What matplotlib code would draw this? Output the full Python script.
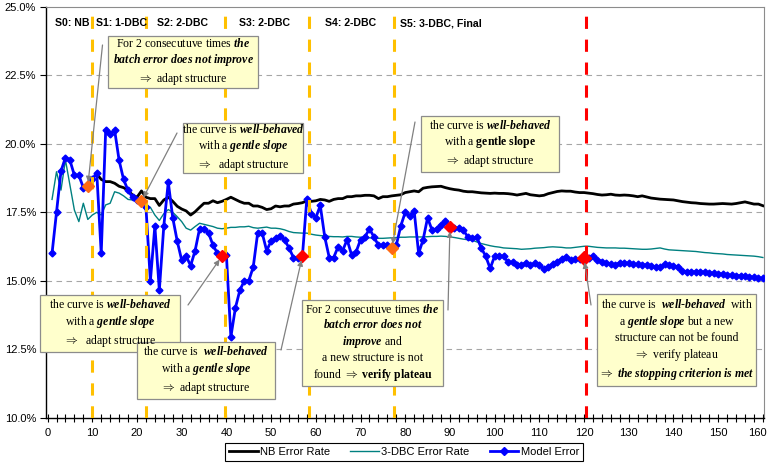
import matplotlib
matplotlib.use("Agg")
import matplotlib.pyplot as plt
from matplotlib import font_manager
from matplotlib.lines import Line2D
from matplotlib.patches import Rectangle
from matplotlib.transforms import offset_copy

W, H = 769, 466

# Model error, x = 1..160
model_error = [
    16.0, 17.5, 19.0, 19.5, 19.4, 18.85, 18.85, 18.4, 18.45, 18.7,
    18.95, 16.0, 20.5, 20.35, 20.5, 19.4, 18.7, 18.3, 18.05, 17.95,
    17.9, 17.7, 15.0, 17.0, 14.65, 17.0, 18.6, 17.3, 16.45, 15.75,
    15.9, 15.55, 16.1, 16.9, 16.9, 16.75, 16.3, 16.0, 15.9, 15.95,
    12.95, 14.0, 14.65, 15.0, 15.0, 15.5, 16.75, 16.75, 16.1, 16.45,
    16.55, 16.65, 16.5, 16.2, 15.85, 15.85, 15.9, 18.0, 17.45, 17.3,
    17.75, 16.6, 15.85, 15.85, 16.25, 16.1, 16.5, 15.95, 16.05, 16.5,
    16.6, 16.9, 16.6, 16.3, 16.3, 16.3, 16.2, 16.3, 17.0, 17.5,
    17.35, 17.55, 16.0, 16.5, 17.3, 16.85, 16.9, 17.05, 17.2, 16.95,
    16.92, 16.92, 16.85, 16.6, 16.55, 16.6, 16.2, 15.9, 15.45, 15.9,
    15.9, 15.9, 15.68, 15.68, 15.58, 15.58, 15.66, 15.57, 15.64, 15.57,
    15.43, 15.52, 15.6, 15.7, 15.8, 15.88, 15.76, 15.78, 15.78, 15.82,
    15.84, 15.9, 15.76, 15.7, 15.64, 15.6, 15.58, 15.66, 15.66, 15.64,
    15.6, 15.6, 15.58, 15.58, 15.54, 15.52, 15.5, 15.6, 15.58, 15.53,
    15.52, 15.35, 15.33, 15.33, 15.33, 15.33, 15.32, 15.3, 15.28, 15.26,
    15.25, 15.22, 15.2, 15.19, 15.18, 15.17, 15.15, 15.13, 15.11, 15.09,
]

# NB error rate, x = 11..160
nb_error = [
    18.9, 18.7, 18.62, 18.62, 18.56, 18.45, 18.4, 18.3, 18.13, 18.05,
    18.28, 18.05, 18.0, 18.0, 17.75, 17.95, 18.05, 17.9, 17.72, 17.62,
    17.55, 17.4, 17.52, 17.68, 17.83, 17.83, 17.92, 17.85, 17.9, 17.97,
    18.05, 17.97, 17.89, 17.83, 17.83, 17.73, 17.73, 17.68, 17.6, 17.63,
    17.73, 17.7, 17.73, 17.73, 17.8, 17.82, 17.85, 17.92, 17.9, 17.92,
    17.97, 17.95, 17.9, 17.97, 18.0, 18.0, 18.07, 18.07, 18.1, 18.1,
    18.12, 18.12, 18.1, 18.0, 18.07, 18.07, 18.1, 18.12, 18.14, 18.22,
    18.25, 18.28, 18.25, 18.38, 18.41, 18.43, 18.44, 18.45, 18.4, 18.36,
    18.33, 18.31, 18.27, 18.25, 18.25, 18.23, 18.21, 18.2, 18.19, 18.2,
    18.19, 18.19, 18.18, 18.16, 18.13, 18.16, 18.19, 18.14, 18.12, 18.1,
    18.12, 18.18, 18.22, 18.26, 18.28, 18.27, 18.27, 18.24, 18.22, 18.22,
    18.2, 18.18, 18.15, 18.13, 18.14, 18.16, 18.13, 18.12, 18.13, 18.12,
    18.1, 18.07, 18.1, 18.06, 18.02, 18.0, 17.98, 17.97, 17.96, 17.95,
    17.92, 17.89, 17.87, 17.85, 17.84, 17.82, 17.81, 17.8, 17.8, 17.81,
    17.82, 17.81, 17.8, 17.82, 17.85, 17.88, 17.84, 17.8, 17.8, 17.74,
]

# 3-DBC error rate, x = 1..160
dbc_error = [
    17.97, 18.98, 18.31, 19.41, 18.5, 17.58, 17.16, 17.83, 17.24, 17.4,
    17.5, 17.4, 17.77, 17.83, 18.25, 18.2, 18.1, 17.97, 17.95, 17.97,
    17.89, 17.77, 17.68, 17.4, 17.2, 17.45, 17.6, 17.5, 17.34, 17.16,
    16.92, 16.85, 16.98, 17.1, 17.06, 17.02, 16.98, 16.92, 16.9, 16.92,
    16.95, 16.95, 16.97, 16.97, 16.99, 16.94, 16.92, 16.94, 16.96, 16.92,
    16.92, 16.9, 16.86, 16.8, 16.76, 16.75, 16.74, 16.74, 16.7, 16.67,
    16.65, 16.64, 16.62, 16.61, 16.61, 16.6, 16.62, 16.62, 16.6, 16.59,
    16.58, 16.57, 16.55, 16.55, 16.55, 16.56, 16.57, 16.58, 16.59, 16.59,
    16.6, 16.6, 16.6, 16.6, 16.61, 16.62, 16.62, 16.63, 16.62, 16.6,
    16.58, 16.55, 16.52, 16.5, 16.48, 16.42, 16.36, 16.32, 16.28, 16.25,
    16.23, 16.2, 16.19, 16.18, 16.17, 16.15, 16.16, 16.17, 16.19, 16.2,
    16.21, 16.23, 16.24, 16.23, 16.22, 16.2, 16.2, 16.22, 16.24, 16.26,
    16.26, 16.24, 16.22, 16.21, 16.2, 16.2, 16.2, 16.19, 16.19, 16.18,
    16.17, 16.16, 16.15, 16.15, 16.16, 16.18, 16.2, 16.16, 16.13, 16.12,
    16.11, 16.1, 16.09, 16.08, 16.07, 16.05, 16.03, 16.02, 16.0, 15.99,
    15.98, 15.96, 15.95, 15.94, 15.93, 15.92, 15.91, 15.9, 15.88, 15.85,
]

model_x = list(range(1, 161))
nb_x = list(range(11, 161))
dbc_x = list(range(1, 161))

orange_points = [9, 21, 77]
red_points = [39, 57, 90, 120]
stage_lines = [10, 22, 39.6, 58.4, 77.5]
final_line = 120.5
stage_labels = ["S0: NB", "S1: 1-DBC", "S2: 2-DBC", "S3: 2-DBC", "S4: 2-DBC", "S5: 3-DBC, Final"]
x_ticks = list(range(0, 161, 10))
y_ticks = [10.0, 12.5, 15.0, 17.5, 20.0, 22.5, 25.0]
legend_labels = ["NB Error Rate", "3-DBC Error Rate", "Model Error"]

plt.rcParams["mathtext.fontset"] = "custom"
plt.rcParams["mathtext.rm"] = "Liberation Serif"
plt.rcParams["mathtext.it"] = "Liberation Serif:italic"
plt.rcParams["mathtext.bf"] = "Liberation Serif:bold"
plt.rcParams["mathtext.bfit"] = "Liberation Serif:italic:bold"
plt.rcParams["mathtext.fallback"] = "cm"


def pick_font(*names):
    for name in names:
        try:
            font_manager.findfont(font_manager.FontProperties(family=name), fallback_to_default=False)
            return name
        except ValueError:
            continue
    return "DejaVu Sans"


NARROW = pick_font("Liberation Sans Narrow", "Liberation Sans")
SERIF = ["Liberation Serif", "DejaVu Serif"]
ARROW = "$\\Rightarrow$"


def fx(px):
    return px / W


def fy(py):
    return 1 - py / H


def model_at(x):
    return model_error[model_x.index(x)]


def note_box(fig, x0, y0, x1, y1, text):
    rect = Rectangle((fx(x0), fy(y1)), fx(x1) - fx(x0), fy(y0) - fy(y1), transform=fig.transFigure,
                     facecolor="#FFFFCC", edgecolor="#8C8C8C", linewidth=0.9, zorder=7)
    fig.add_artist(rect)
    fig.text(fx((x0 + x1) / 2), fy((y0 + y1) / 2), text, ha="center", va="center", multialignment="center",
             fontsize=8.5, family=SERIF, color="#000000", linespacing=1.25, zorder=8)


def arrow(ax, start_px, x):
    ax.annotate("", xy=(x, model_at(x)), xycoords="data",
                xytext=(fx(start_px[0]), fy(start_px[1])), textcoords="figure fraction",
                arrowprops=dict(arrowstyle="-|>", color="#808080", lw=0.9, shrinkA=0, shrinkB=3,
                                mutation_scale=8),
                annotation_clip=False, zorder=6)


def main():
    fig = plt.figure(figsize=(W / 100, H / 100), dpi=100)
    fig.patch.set_facecolor("white")
    ax = fig.add_axes([fx(46), fy(417.8), fx(764) - fx(46), fy(6.8) - fy(417.8)])

    ax.set_xlim(-0.35, 160.25)
    ax.set_ylim(10, 25)

    ax.set_yticks(y_ticks)
    ax.set_yticklabels([f"{v:.1f}%" for v in y_ticks])
    ax.set_xticks(x_ticks)
    ax.set_xticks(list(range(0, 161, 2)), minor=True)
    ax.tick_params(axis="y", direction="out", length=4, width=0.8, pad=3)
    ax.tick_params(axis="x", which="both", direction="inout", length=6, width=0.8, pad=4)
    for lbl in ax.get_xticklabels() + ax.get_yticklabels():
        lbl.set_family(NARROW)
        lbl.set_fontsize(8)

    for v in y_ticks[1:-1]:
        ax.axhline(v, color="#A6A6A6", lw=0.8, ls=(0, (5, 4)), zorder=1)

    for side in ("top", "right"):
        ax.spines[side].set_color("#8C8C8C")
        ax.spines[side].set_linewidth(0.8)
    for side in ("left", "bottom"):
        ax.spines[side].set_color("#000000")
        ax.spines[side].set_linewidth(1.0)

    ax.plot(dbc_x, dbc_error, color="#008080", lw=1.0, zorder=2)
    ax.plot(nb_x, nb_error, color="#000000", lw=2.0, zorder=3)
    ax.plot(model_x, model_error, color="#0000FF", lw=2.0, marker="D", ms=3.5,
            mfc="#0000FF", mec="#0000FF", zorder=4)

    for x in stage_lines:
        ax.axvline(x, color="#FFC000", lw=2.2, ls=(0, (4, 3.5)), zorder=5)
    ax.axvline(final_line, color="#FF0000", lw=2.2, ls=(0, (4, 3.5)), zorder=5)

    ax.plot(orange_points, [model_at(x) for x in orange_points], ls="none", marker="D", ms=6,
            color="#FF6A13", zorder=6)
    ax.plot(red_points[:-1], [model_at(x) for x in red_points[:-1]], ls="none", marker="D", ms=6,
            color="#FF0000", zorder=6)
    ax.plot(red_points[-1:], [model_at(red_points[-1])], ls="none", marker="D", ms=7.5,
            color="#FF0000", zorder=6)

    # stage labels along the top
    for px, label in zip([55, 96, 157, 239, 325, 400], stage_labels):
        fig.text(fx(px), fy(23), label, ha="left", va="center", fontsize=7.6, fontweight="bold",
                 family="Liberation Sans", color="#000000")

    # callouts
    arrow(ax, (102.5, 45), 9)
    arrow(ax, (177, 133), 21)
    arrow(ax, (188, 305), 39)
    arrow(ax, (281, 350), 57)
    arrow(ax, (415, 122), 77)
    arrow(ax, (448, 310), 90)
    arrow(ax, (591, 305), 120)

    note_box(fig, 108, 36, 258, 88,
             "For 2 consecutuve times $\\mathbfit{the}$\n"
             "$\\mathbfit{batch\\ error\\ does\\ not\\ improve}$\n"
             f"{ARROW} adapt structure")
    note_box(fig, 183, 123, 303, 173,
             "the curve is $\\mathbfit{well}$-$\\mathbfit{behaved}$\n"
             "with a $\\mathbfit{gentle\\ slope}$\n"
             f"{ARROW}  adapt structure")
    note_box(fig, 40, 295, 180, 352,
             "the curve is $\\mathbfit{well}$-$\\mathbfit{behaved}$\n"
             "with a $\\mathbfit{gentle\\ slope}$\n"
             f"{ARROW}  adapt structure")
    note_box(fig, 137, 342, 275, 399,
             "the curve is  $\\mathbfit{well}$-$\\mathbfit{behaved}$\n"
             "with a $\\mathbfit{gentle\\ slope}$\n"
             f"{ARROW} adapt structure")
    note_box(fig, 302, 300, 443, 386,
             "For 2 consecutuve times $\\mathbfit{the}$\n"
             "$\\mathbfit{batch\\ error\\ does\\ not}$\n"
             "$\\mathbfit{improve}$ and\n"
             "a new structure is not\n"
             f"found {ARROW} $\\mathbf{{verify\\ plateau}}$")
    note_box(fig, 421, 116, 559, 172,
             "the curve is $\\mathbfit{well}$-$\\mathbfit{behaved}$\n"
             "with a $\\mathbf{gentle\\ slope}$\n"
             f"{ARROW} adapt structure")
    note_box(fig, 597, 294, 756, 386,
             "the curve is  $\\mathbfit{well}$-$\\mathbfit{behaved}$  with\n"
             "a $\\mathbfit{gentle\\ slope}$ but a new\n"
             "structure can not be found\n"
             f"{ARROW} verify plateau\n"
             f"{ARROW} $\\mathbfit{{the\\ stopping\\ criterion\\ is\\ met}}$")

    # keep the last x label inside the canvas
    last = ax.get_xticklabels()[-1]
    last.set_ha("right")
    last.set_transform(offset_copy(last.get_transform(), fig=fig, x=4, units="dots"))

    handles = [
        Line2D([], [], color="#000000", lw=2.0),
        Line2D([], [], color="#008080", lw=1.0),
        Line2D([], [], color="#0000FF", lw=2.0, marker="D", ms=4),
    ]
    leg = fig.legend(handles, legend_labels, loc="center", bbox_to_anchor=(fx(404), fy(452)), ncol=3,
                     frameon=True, fancybox=False, edgecolor="#000000", framealpha=1,
                     prop=font_manager.FontProperties(family=NARROW, size=8),
                     handlelength=2.6, handletextpad=0.2, columnspacing=1.8, borderpad=0.35)
    leg.get_frame().set_linewidth(0.8)

    fig.savefig("out.png", dpi=100, facecolor="white")
    plt.close(fig)


if __name__ == "__main__":
    main()
